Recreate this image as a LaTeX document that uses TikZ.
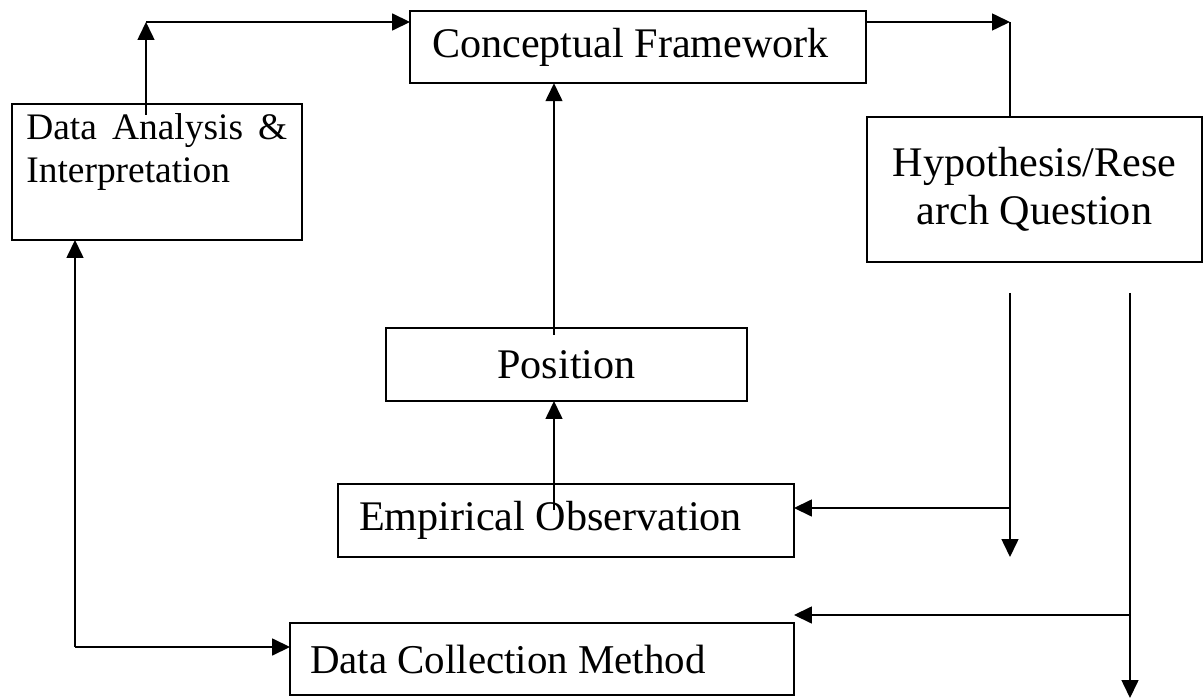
\documentclass[tikz,border=0pt]{standalone}
\usepackage{fontspec}
\setmainfont{Liberation Serif}
\usepackage{tikz}
\usetikzlibrary{arrows.meta, positioning}

\begin{document}
\begin{tikzpicture}[
    x=0.02cm, y=-0.02cm,
    box/.style={
        rectangle,
        draw=black,
        line width=0.9pt,
        inner sep=0pt,
        outer sep=0pt,
        font=\fontsize{24}{27}\selectfont
    },
    leftbox/.style={
        box,
        align=flush left,
        inner xsep=0.42cm,
        minimum height=1.45cm
    },
    arrow/.style={-{Triangle[length=0.36cm, width=0.34cm]}, line width=0.9pt},
    line/.style={line width=0.9pt}
]
\useasboundingbox (0,0) rectangle (1204,699);

\node[leftbox, text width=8.24cm, inner xsep=0.44cm] (framework) at (638,47) {Conceptual Framework};

\node[box, minimum width=5.8cm, minimum height=2.72cm] (analysis) at (157,172) {};
\node[anchor=north west, inner sep=0pt, text width=5.22cm, align=flush left,
      font=\fontsize{21.3}{24.4}\selectfont] (analysistext) at (26,113)
      {Data\hfill Analysis\hfill\&\\Interpretation};

\node[box, align=center, minimum width=6.7cm, minimum height=2.9cm] (hypothesis) at (1034.5,189.5) {Hypothesis/Rese\\arch Question};

\node[box, minimum width=7.22cm, minimum height=1.46cm] (position) at (566.5,364.5) {Position};

\node[leftbox, text width=8.28cm] (observation) at (566,520.5) {Empirical Observation};

\node[leftbox, text width=9.28cm, inner xsep=0.4cm, font=\fontsize{23.3}{26}\selectfont] (collection) at (542,659) {Data Collection Method};

% junction points
\coordinate (upstart) at (146,115);
\coordinate (topleft) at (146,22);
\coordinate (topright) at (1010,22);
\coordinate (midup) at (554,335);
\coordinate (lowup) at (554,510);
\coordinate (splitA) at (1010,293);
\coordinate (splitB) at (1130,293);
\coordinate (joinA) at (1010,508);
\coordinate (joinB) at (1130,615);
\coordinate (endA) at (1010,557);
\coordinate (endB) at (1130,698);
\coordinate (botleft) at (75,647);

\draw[arrow] (upstart) -- (topleft);
\draw[arrow] (topleft) -- (topleft -| framework.west);

\draw[arrow] (topright -| framework.east) -- (topright);
\draw[line] (topright) -- (topright |- hypothesis.north);

\draw[arrow] (midup) -- (midup |- framework.south);
\draw[arrow] (lowup) -- (lowup |- position.south);

\draw[arrow] (splitA) -- (endA);
\draw[arrow] (joinA) -- (joinA -| observation.east);
\draw[arrow] (splitB) -- (endB);
\draw[arrow] (joinB) -- (joinB -| collection.east);

\draw[arrow] (botleft) -- (botleft |- analysis.south);
\draw[arrow] (botleft) -- (botleft -| collection.west);

\end{tikzpicture}
\end{document}
